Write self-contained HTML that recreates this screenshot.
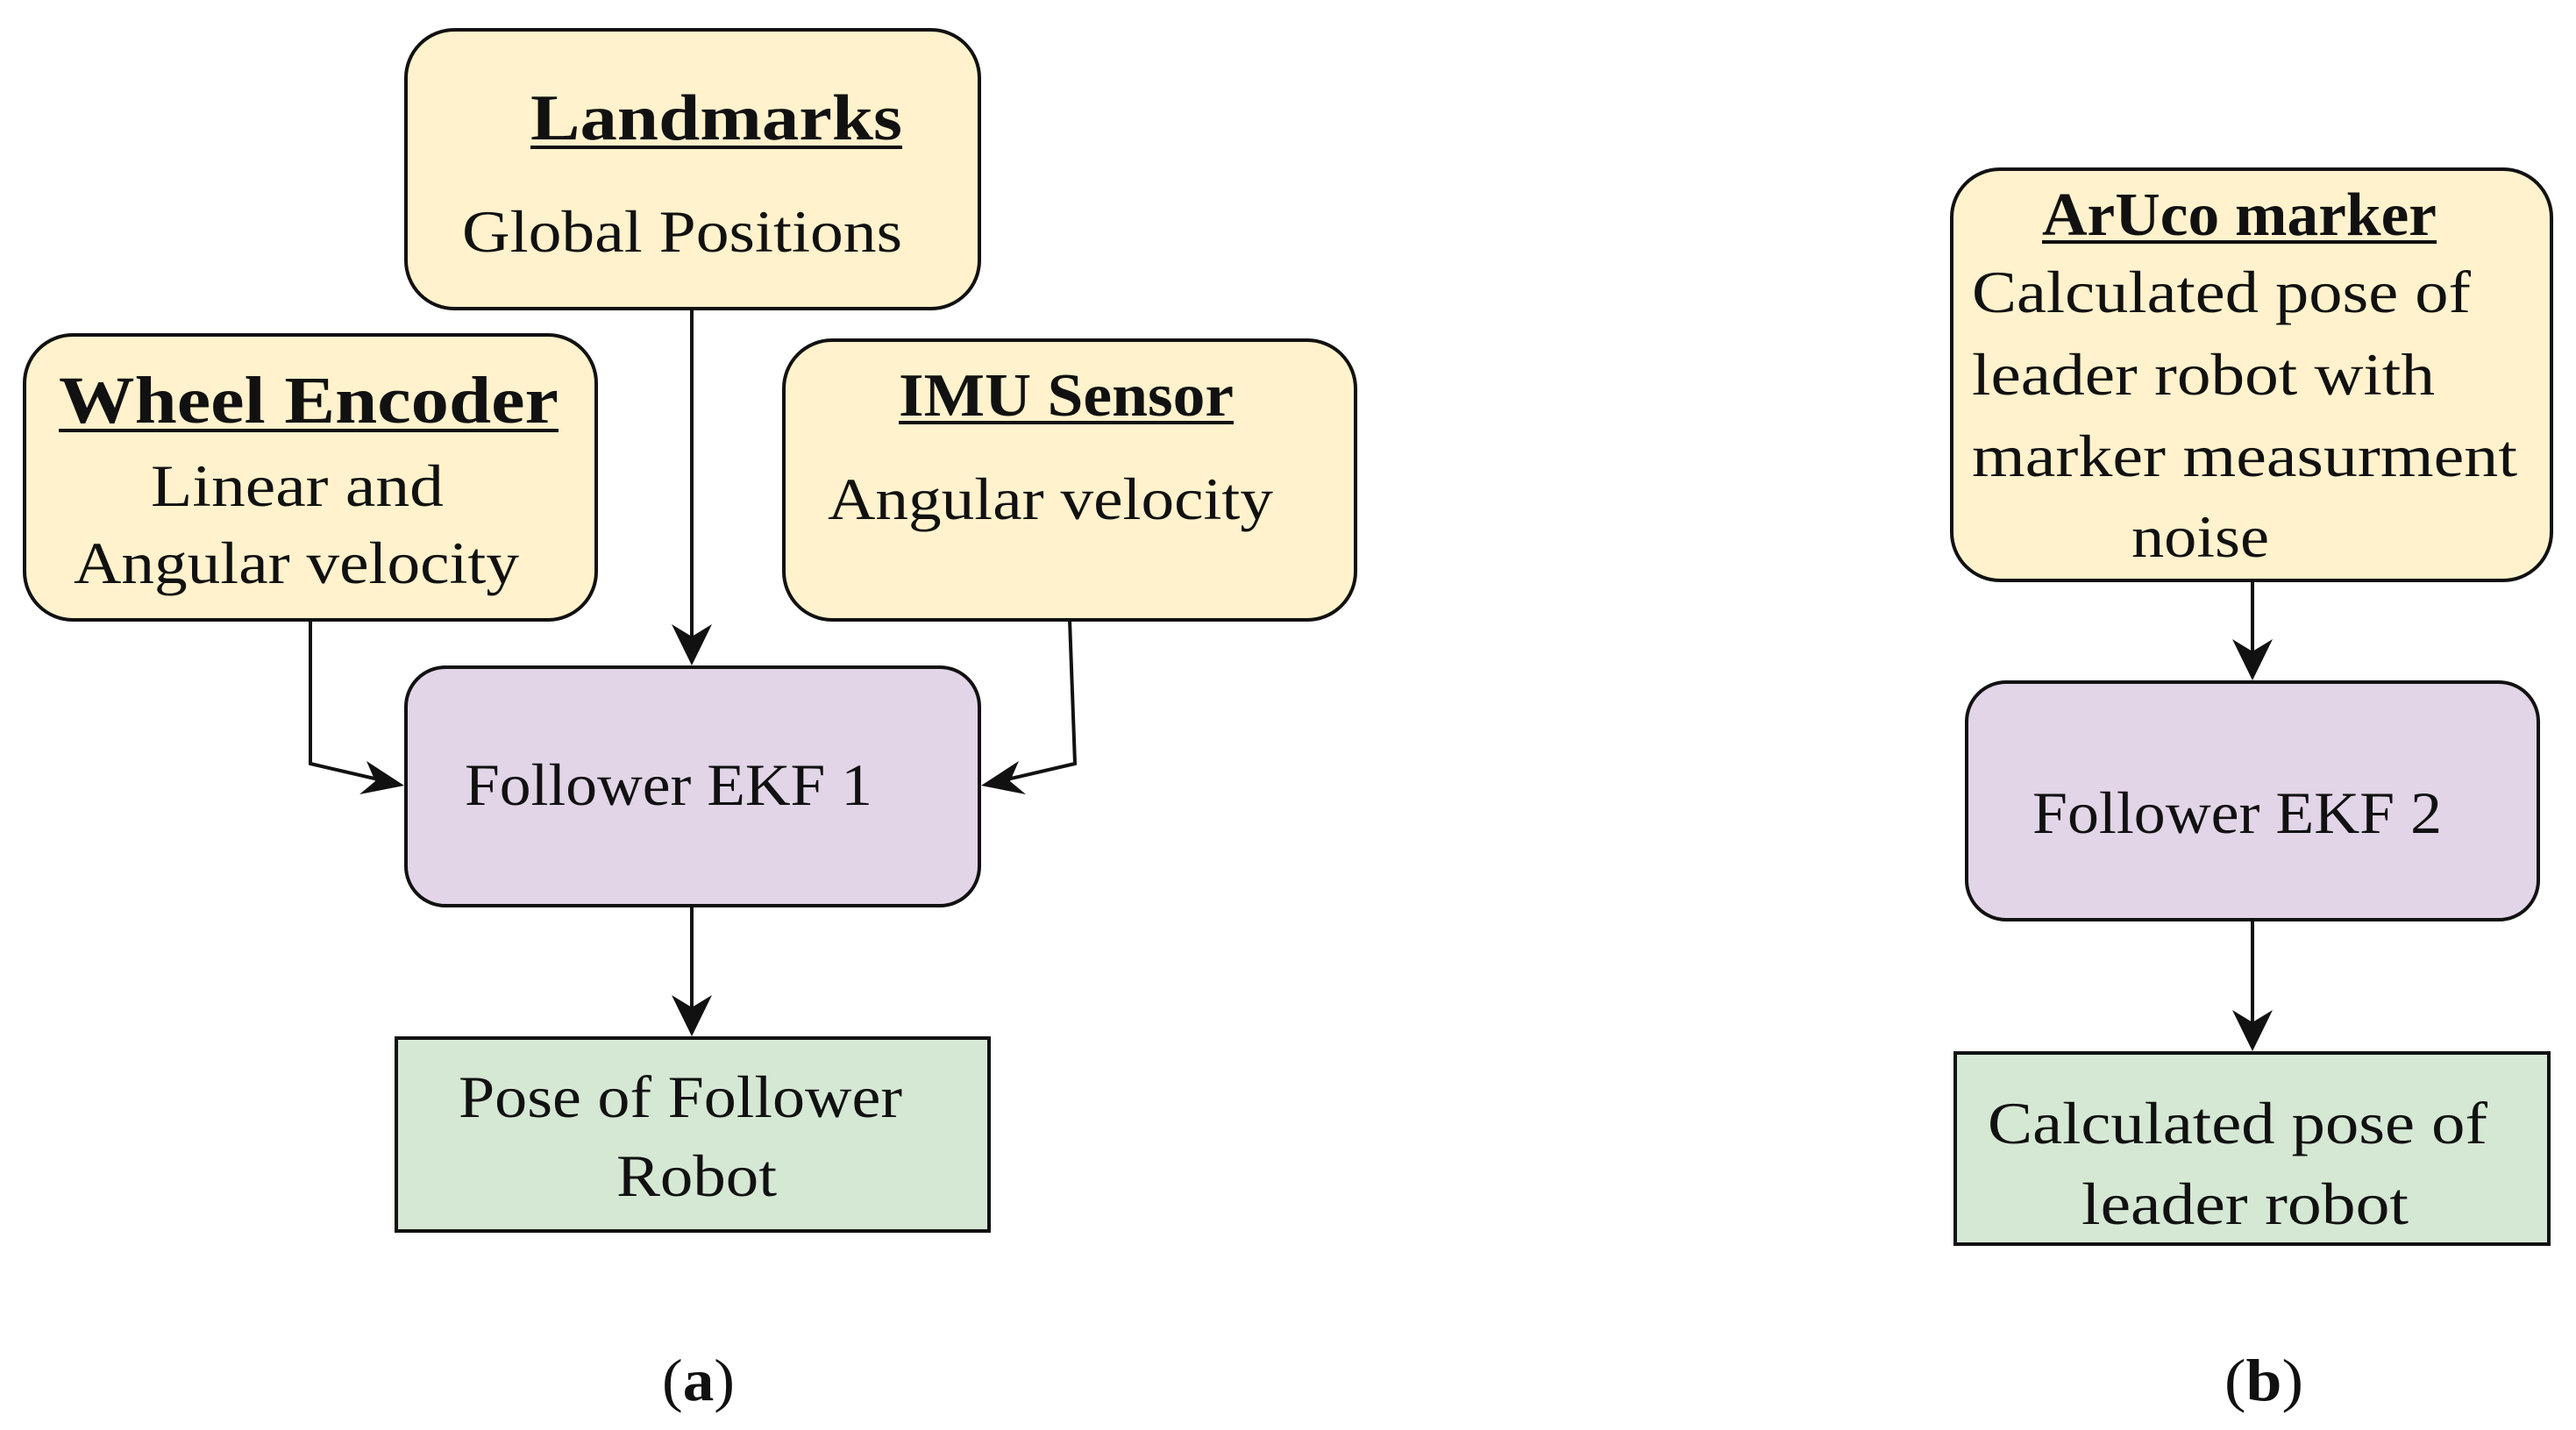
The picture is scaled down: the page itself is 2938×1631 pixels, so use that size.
<!DOCTYPE html>
<html><head><meta charset="utf-8"><style>html,body{margin:0;padding:0;background:#fff}svg{display:block}</style></head>
<body>
<svg width="2938" height="1631" viewBox="0 0 2938 1631" xmlns="http://www.w3.org/2000/svg" font-family="Liberation Serif, serif" fill="#111">
<defs>
<marker id="ah" markerWidth="12" markerHeight="12" refX="10" refY="6" orient="auto" markerUnits="userSpaceOnUse" viewBox="0 0 12 12">
</marker>
</defs>
<g stroke="#111" stroke-width="4">
<rect x="463" y="34" width="654" height="318" rx="55" fill="#fff2cc"/>
<rect x="28" y="382" width="652" height="325" rx="55" fill="#fff2cc"/>
<rect x="894" y="388" width="652" height="319" rx="55" fill="#fff2cc"/>
<rect x="463" y="761" width="654" height="272" rx="45" fill="#e1d5e7"/>
<rect x="452" y="1184" width="676" height="220" fill="#d5e8d4"/>
<rect x="2226" y="193" width="684" height="469" rx="55" fill="#fff2cc"/>
<rect x="2243" y="778" width="652" height="271" rx="45" fill="#e1d5e7"/>
<rect x="2230" y="1201" width="677" height="218" fill="#d5e8d4"/>
<g fill="none">
<line x1="789" y1="352" x2="789" y2="740"/>
<polyline points="354,707 354,871 440,891"/>
<polyline points="1220,707 1226,871 1140,891"/>
<line x1="789" y1="1033" x2="789" y2="1160"/>
<line x1="2569" y1="662" x2="2569" y2="755"/>
<line x1="2569" y1="1049" x2="2569" y2="1178"/>
</g>
</g>
<g stroke="none" fill="#111">
<polygon points="789,759 766,712 789,726 812,712"/>
<polygon points="2569,776 2546,729 2569,743 2592,729"/>
<polygon points="789,1182 766,1135 789,1149 812,1135"/>
<polygon points="2569,1199 2546,1152 2569,1166 2592,1152"/>
<polygon points="461,896 410,906 428,891 418,868"/>
<polygon points="1119,896 1162,868 1152,891 1170,906"/>
</g>
<g font-size="68">
<text x="605" y="159" font-weight="bold" font-size="74" textLength="424" lengthAdjust="spacingAndGlyphs">Landmarks</text>
<rect x="605" y="166" width="424" height="4"/>
<text x="527" y="287" textLength="502" lengthAdjust="spacingAndGlyphs">Global Positions</text>
<text x="67" y="482" font-weight="bold" font-size="76" textLength="570" lengthAdjust="spacingAndGlyphs">Wheel Encoder</text>
<rect x="67" y="489" width="570" height="4"/>
<text x="172" y="577" textLength="334" lengthAdjust="spacingAndGlyphs">Linear and</text>
<text x="84" y="665" textLength="508" lengthAdjust="spacingAndGlyphs">Angular velocity</text>
<text x="1025" y="474" font-weight="bold" font-size="70" textLength="382" lengthAdjust="spacingAndGlyphs">IMU Sensor</text>
<rect x="1025" y="480" width="382" height="4"/>
<text x="944" y="592" textLength="508" lengthAdjust="spacingAndGlyphs">Angular velocity</text>
<text x="530" y="918" textLength="465" lengthAdjust="spacingAndGlyphs">Follower EKF 1</text>
<text x="523" y="1274" textLength="506" lengthAdjust="spacingAndGlyphs">Pose of Follower</text>
<text x="703" y="1364" textLength="183" lengthAdjust="spacingAndGlyphs">Robot</text>
<text x="2329" y="268" font-weight="bold" font-size="70" textLength="450" lengthAdjust="spacingAndGlyphs">ArUco marker</text>
<rect x="2329" y="274" width="450" height="4"/>
<text x="2249" y="356" textLength="569" lengthAdjust="spacingAndGlyphs">Calculated pose of</text>
<text x="2249" y="450" textLength="528" lengthAdjust="spacingAndGlyphs">leader robot with</text>
<text x="2249" y="543" textLength="622" lengthAdjust="spacingAndGlyphs">marker measurment</text>
<text x="2431" y="635" textLength="157" lengthAdjust="spacingAndGlyphs">noise</text>
<text x="2318" y="950" textLength="467" lengthAdjust="spacingAndGlyphs">Follower EKF 2</text>
<text x="2267" y="1304" textLength="570" lengthAdjust="spacingAndGlyphs">Calculated pose of</text>
<text x="2374" y="1396" textLength="373" lengthAdjust="spacingAndGlyphs">leader robot</text>
<text x="755" y="1597" textLength="83" lengthAdjust="spacingAndGlyphs">(<tspan font-weight="bold">a</tspan>)</text>
<text x="2537" y="1597" textLength="90" lengthAdjust="spacingAndGlyphs">(<tspan font-weight="bold">b</tspan>)</text>
</g>
</svg>
</body></html>
